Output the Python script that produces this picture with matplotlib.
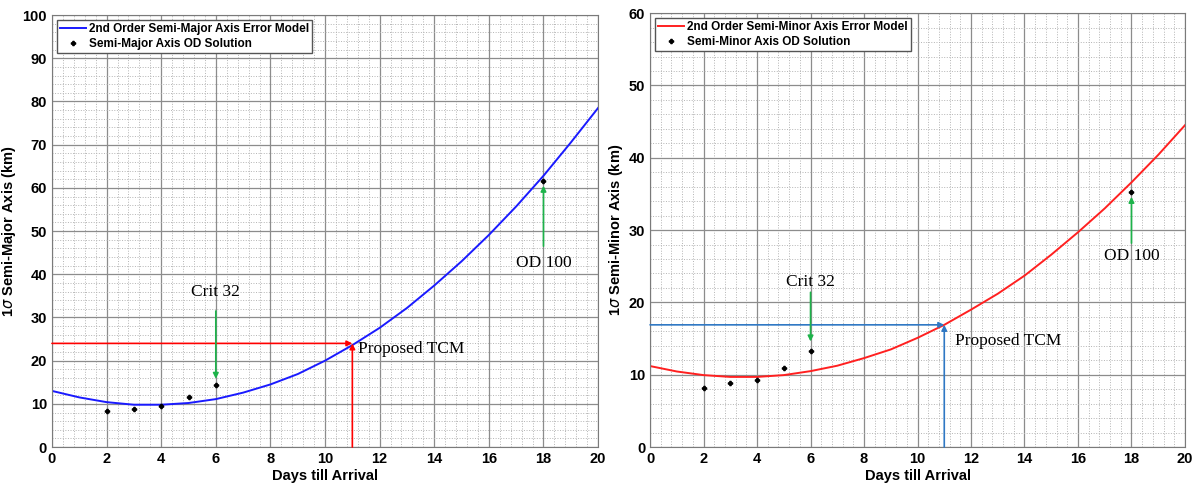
import numpy as np
import matplotlib.pyplot as plt
from matplotlib.ticker import MultipleLocator

plt.rcParams['font.family'] = ['Liberation Sans', 'DejaVu Sans']

days = np.arange(0, 21)

# 2nd order model curves at each integer day
major_model = [13.0, 11.5, 10.4, 9.8, 9.8, 10.2, 11.1, 12.6, 14.5, 16.9, 20.0,
               23.6, 27.6, 32.2, 37.4, 43.0, 49.1, 55.7, 62.8, 70.5, 78.5]
minor_model = [11.2, 10.45, 9.95, 9.7, 9.7, 9.95, 10.5, 11.25, 12.3, 13.5, 15.1,
               16.9, 19.0, 21.2, 23.7, 26.6, 29.7, 33.0, 36.6, 40.4, 44.5]

# OD solutions
od_days = [2, 3, 4, 5, 6, 18]
major_od = [8.3, 8.7, 9.6, 11.5, 14.4, 61.5]
minor_od = [8.2, 8.8, 9.3, 10.9, 13.3, 35.3]

tcm_day = 11
major_tcm = 24.0
minor_tcm = 16.9

serif = ['Liberation Serif', 'DejaVu Serif']
green = '#1db34a'


def setup(ax, ymax, ylabel):
    ax.set_xlim(0, 20)
    ax.set_ylim(0, ymax)
    ax.xaxis.set_major_locator(MultipleLocator(2))
    ax.xaxis.set_minor_locator(MultipleLocator(0.4))
    ax.yaxis.set_major_locator(MultipleLocator(10))
    ax.yaxis.set_minor_locator(MultipleLocator(2))
    ax.grid(which='major', color='#8c8c8c', lw=0.9)
    ax.grid(which='minor', color='#b4b4b4', lw=0.7, ls=':')
    ax.tick_params(which='both', length=0, labelsize=10.5)
    for lab in ax.get_xticklabels() + ax.get_yticklabels():
        lab.set_fontweight('bold')
    for s in ax.spines.values():
        s.set_color('#7a7a7a')
    ax.set_xlabel('Days till Arrival', fontsize=10.5, fontweight='bold', labelpad=2)
    ax.set_ylabel(ylabel, fontsize=10.5, fontweight='bold', labelpad=3)


def arrow(ax, start, end, color):
    ax.annotate('', xy=end, xytext=start,
                arrowprops=dict(arrowstyle='-|>', color=color, lw=1.2,
                                mutation_scale=8, shrinkA=0, shrinkB=0))


fig = plt.figure(figsize=(11.95, 4.87), dpi=100)
ax1 = fig.add_axes([0.0435, 0.082, 0.457, 0.887])
ax2 = fig.add_axes([0.544, 0.082, 0.4476, 0.891])

# left: semi-major
ax1.plot(days, major_model, color='#1a1aff', lw=1.4, label='2nd Order Semi-Major Axis Error Model')
ax1.plot(od_days, major_od, 'P', color='black', ms=3, ls='none', label='Semi-Major Axis OD Solution')
arrow(ax1, (0, major_tcm), (tcm_day, major_tcm), 'red')
arrow(ax1, (tcm_day, 0), (tcm_day, major_tcm), 'red')
ax1.text(11.2, 22.6, 'Proposed TCM', family=serif, fontsize=12.5, va='center')
ax1.text(6, 36, 'Crit 32', family=serif, fontsize=12.5, ha='center', va='center')
arrow(ax1, (6, 31.5), (6, 15.8), green)
ax1.text(18, 42.5, 'OD 100', family=serif, fontsize=12.5, ha='center', va='center')
arrow(ax1, (18, 46.5), (18, 60.5), green)
setup(ax1, 100, r'1$\sigma$ Semi-Major Axis (km)')
ax1.legend(loc='upper left', prop={'weight': 'bold', 'size': 8.5},
           fancybox=False, edgecolor='#555555', borderpad=0.25, handlelength=2.2,
           handletextpad=0.3, labelspacing=0.25, borderaxespad=0.4, framealpha=1)

# right: semi-minor
ax2.plot(days, minor_model, color='#ff2020', lw=1.4, label='2nd Order Semi-Minor Axis Error Model')
ax2.plot(od_days, minor_od, 'P', color='black', ms=3, ls='none', label='Semi-Minor Axis OD Solution')
arrow(ax2, (0, minor_tcm), (tcm_day, minor_tcm), '#2f78c4')
arrow(ax2, (tcm_day, 0), (tcm_day, minor_tcm), '#2f78c4')
ax2.text(11.4, 14.7, 'Proposed TCM', family=serif, fontsize=12.5, va='center')
ax2.text(6, 22.8, 'Crit 32', family=serif, fontsize=12.5, ha='center', va='center')
arrow(ax2, (6, 21.4), (6, 14.6), green)
ax2.text(18, 26.4, 'OD 100', family=serif, fontsize=12.5, ha='center', va='center')
arrow(ax2, (18, 28.2), (18, 34.6), green)
setup(ax2, 60, r'1$\sigma$ Semi-Minor Axis (km)')
ax2.legend(loc='upper left', prop={'weight': 'bold', 'size': 8.5},
           fancybox=False, edgecolor='#555555', borderpad=0.25, handlelength=2.2,
           handletextpad=0.3, labelspacing=0.25, borderaxespad=0.4, framealpha=1)

fig.savefig('out.png', dpi=100)
